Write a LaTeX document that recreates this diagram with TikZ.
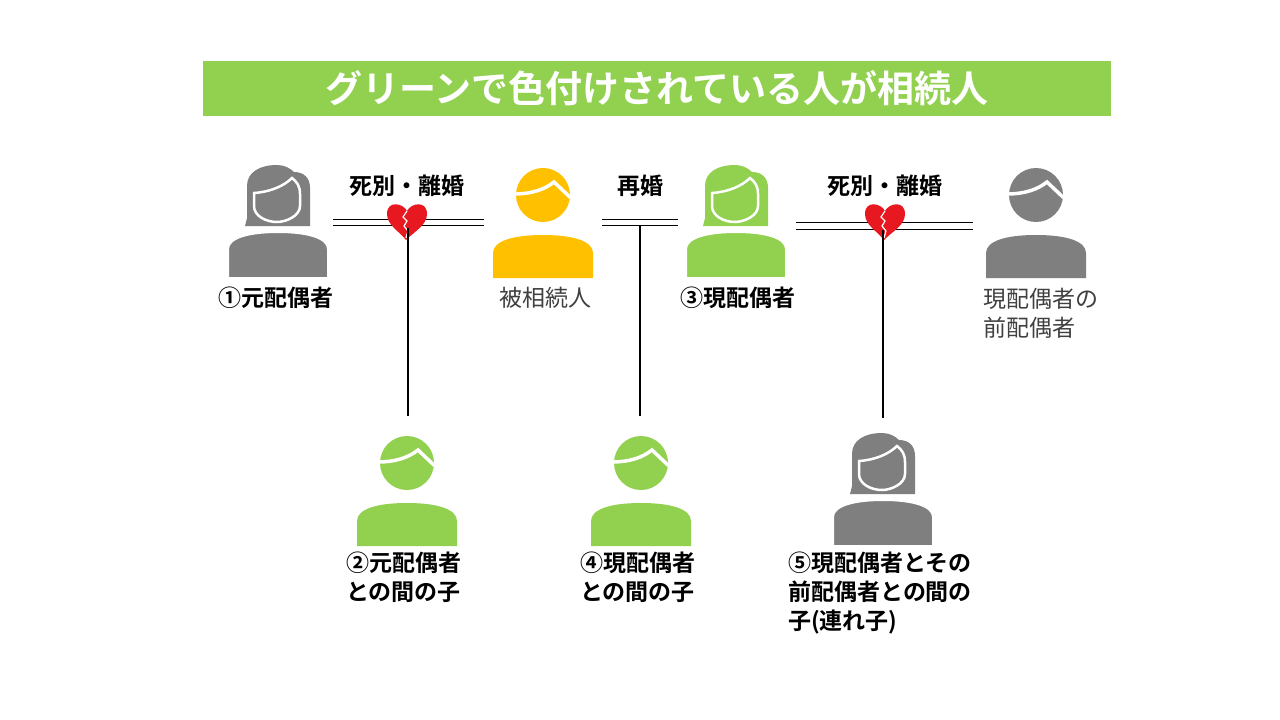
\documentclass[tikz,border=0pt]{standalone}
\usepackage{fontspec}
\setmainfont{Noto Sans CJK JP}[BoldFont={Noto Sans CJK JP Bold}]
\definecolor{heirgreen}{RGB}{146,208,80}
\definecolor{deceased}{RGB}{255,192,0}
\definecolor{othergray}{RGB}{127,127,127}
\definecolor{labelgray}{RGB}{64,64,64}
\definecolor{heartred}{RGB}{232,24,32}

\tikzset{
  lbl/.style={font=\fontsize{23}{29}\selectfont\bfseries, inner sep=0pt},
  plainlbl/.style={font=\fontsize{23}{29}\selectfont, text=labelgray, inner sep=0pt},
  titlebar/.style={fill=heirgreen, minimum width=908, minimum height=55, inner sep=0pt,
    text=white, font=\fontsize{37}{40}\selectfont\bfseries},
  wed/.style={double, double distance=5.6pt, line width=1.1pt},
  kid/.style={line width=1.1pt},
  pics/man/.style={code={
    \fill[#1] (-50,0) -- (-50,-25) .. controls (-50,-37) and (-30,-43) .. (0,-43)
      .. controls (30,-43) and (50,-37) .. (50,-25) -- (50,0) -- cycle;
    \fill[#1] (0,-83) circle[radius=27];
    \begin{scope}
      \clip (0,-83) circle[radius=27];
      \draw[white, line width=3.5pt] (-30,-84) .. controls (-10,-84) and (2,-89) .. (11,-96) -- (30,-78);
    \end{scope}
  }},
  pics/woman/.style={code={
    \fill[#1] (-33,-52) -- (-31,-60) -- (-31,-92) .. controls (-31,-106) and (-18,-113) .. (-1,-113)
      .. controls (6,-113) and (12,-110) .. (16,-106) .. controls (26,-106) and (32,-100) .. (32,-90)
      -- (32,-52) -- cycle;
    \filldraw[fill=#1, draw=white, line width=2.5pt] (-24,-85) .. controls (-8,-86) and (6,-92) .. (14,-100)
      .. controls (19,-96) and (22,-92) .. (22,-84) -- (22,-72) .. controls (22,-62) and (8,-56) .. (-1,-56)
      .. controls (-12,-56) and (-24,-62) .. (-24,-72) -- cycle;
    \filldraw[fill=#1, draw=white, line width=2pt] (-50,0) -- (-50,-29) .. controls (-50,-40) and (-30,-46) .. (0,-46)
      .. controls (30,-46) and (50,-40) .. (50,-29) -- (50,0) -- cycle;
  }},
  pics/brokenheart/.style={code={
    \fill[heartred] (0,-11) .. controls (-4,-19) and (-20,-22) .. (-20,-8)
      .. controls (-20,3) and (-8,9) .. (-1,18) .. controls (8,9) and (20,3) .. (20,-8)
      .. controls (20,-22) and (4,-19) .. (0,-11) -- cycle;
    \draw[white, line width=1.2pt] (0,-11) -- (-4,-5) -- (0,-1) -- (-3,4) -- (1,9) -- (-1,16);
  }},
}

\begin{document}
\begin{tikzpicture}[x=1pt, y=-1pt]
  \useasboundingbox[fill=white] (0,0) rectangle (1280,720);

  % title
  \node[titlebar] (title) at (657,88.5) {グリーンで色付けされている人が相続人};

  % persons
  \pic (p1) at (278,278) {woman=othergray};
  \pic (p2) at (543,278) {man=deceased};
  \pic (p3) at (736,278) {woman=heirgreen};
  \pic (p4) at (1036,278) {man=othergray};
  \pic (c1) at (407,546) {man=heirgreen};
  \pic (c2) at (641,546) {man=heirgreen};
  \pic (c3) at (883,546) {woman=othergray};

  % marriages
  \coordinate (m1a) at (333,222.5);
  \coordinate (m1b) at (484,222.5);
  \coordinate (m2a) at (602,222.5);
  \coordinate (m2b) at (678,222.5);
  \coordinate (m3a) at (796,226);
  \coordinate (m3b) at (973,226);
  \draw[wed] (m1a) -- (m1b);
  \draw[wed] (m2a) -- (m2b);
  \draw[wed] (m3a) -- (m3b);
  \pic (h1pic) at (407,222) {brokenheart};
  \pic (h3pic) at (885,222) {brokenheart};

  % lines to children
  \coordinate (h1) at (408,228);
  \coordinate (h2) at (640,226);
  \coordinate (h3) at (883,230);
  \coordinate (k1) at (408,416);
  \coordinate (k2) at (640,416);
  \coordinate (k3) at (883,418);
  \draw[kid] (h1) -- (k1);
  \draw[kid] (h2) -- (k2);
  \draw[kid] (h3) -- (k3);

  % labels
  \node[lbl] (e1) at (407,186) {死別・離婚};
  \node[lbl] (e2) at (640,186) {再婚};
  \node[lbl] (e3) at (885,186) {死別・離婚};

  \node[lbl] (l1) at (276,298) {①元配偶者};
  \node[plainlbl] (l2) at (545,298) {被相続人};
  \node[lbl] (l3) at (738,298) {③現配偶者};
  \node[plainlbl, anchor=north west, align=left] (l4) at (983,288) {現配偶者の\\前配偶者};
  \node[lbl, anchor=north west, align=left] (l5) at (346,552) {②元配偶者\\との間の子};
  \node[lbl, anchor=north west, align=left] (l6) at (580,552) {④現配偶者\\との間の子};
  \node[lbl, anchor=north west, align=left] (l7) at (788,552) {⑤現配偶者とその\\前配偶者との間の\\子(連れ子)};
\end{tikzpicture}
\end{document}
